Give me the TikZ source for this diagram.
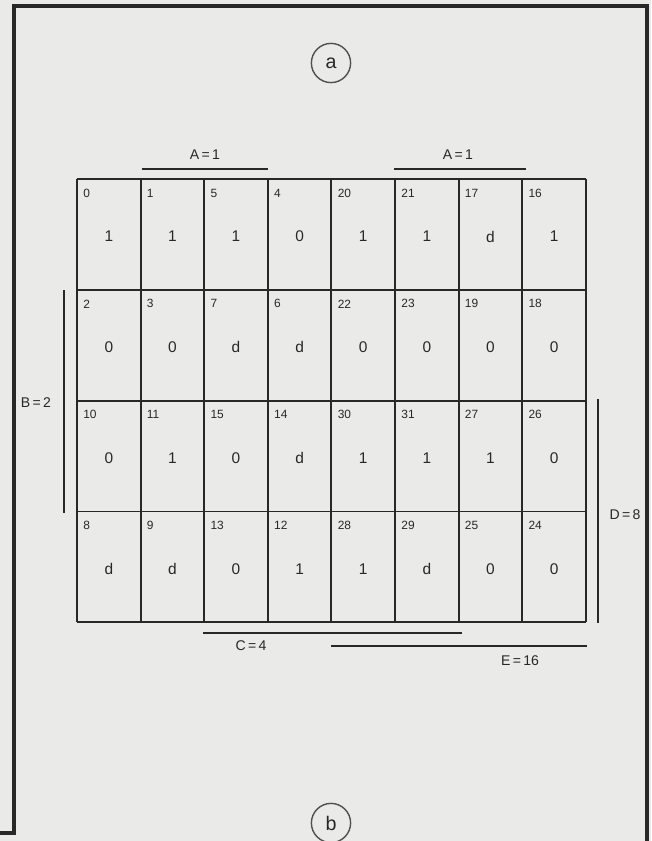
\documentclass[tikz,border=0pt]{standalone}
\usepackage{fontspec}
\setmainfont{Liberation Sans}
\usepackage{tikz}
\usetikzlibrary{calc}
\definecolor{paper}{RGB}{234,234,232}
\definecolor{ink}{RGB}{40,40,40}
\definecolor{pencil}{RGB}{80,80,80}

\tikzset{
  frameline/.style={ink, line width=2.2pt},
  gridline/.style={ink, line width=1.4pt},
  barline/.style={ink, line width=0.9pt},
  tag/.style={circle, draw=pencil, line width=1pt, minimum size=0.98cm, inner sep=0pt, font=\fontsize{14}{14}\selectfont},
  cellnum/.style={anchor=west, inner sep=0pt, xshift=0.15cm, yshift=-0.35cm, font=\fontsize{8.5}{8.5}\selectfont},
  cellval/.style={inner sep=0pt, font=\fontsize{11}{11}\selectfont},
  barlabel/.style={inner sep=0pt, font=\fontsize{10}{10}\selectfont}
}

\begin{document}
\begin{tikzpicture}[x=0.025cm, y=-0.025cm, text=ink]
        \useasboundingbox (0,0) rectangle (651,841);
        \fill[paper] (0,0) rectangle (651,841);
        % frame
        \draw[frameline] (0,833) -- (14,833) -- (14,6) -- (647,6) -- (647,845);
        % circled letters
        \node[tag] (a) at (331,63) {a};
        \node[tag] (b) at (331,823) {b};
        % map
        \begin{scope}[shift={(77,179)}, x=1.59cm, y=-2.77cm]
            \foreach \i in {0,...,8} \draw[gridline] (\i,0) -- (\i,4);
            \foreach \j in {0,...,4} \draw[gridline] (0,\j) -- (8,\j);
            \foreach \n/\v [count=\k from 0] in {0/1, 1/1, 5/1, 4/0, 20/1, 21/1, 17/d, 16/1,
                                                 2/0, 3/0, 7/d, 6/d, 22/0, 23/0, 19/0, 18/0,
                                                 10/0, 11/1, 15/0, 14/d, 30/1, 31/1, 27/1, 26/0,
                                                 8/d, 9/d, 13/0, 12/1, 28/1, 29/d, 25/0, 24/0} {
                \pgfmathtruncatemacro{\col}{mod(\k,8)}
                \pgfmathtruncatemacro{\row}{div(\k,8)}
                \node[cellnum] (n\n) at (\col,\row) {\n};
                \node[cellval] (v\n) at (\col+0.5,\row+0.52) {\v};
            }
        \end{scope}
        % variable bars
        \draw[barline] (141.7,169) -- (267.7,169);
        \node[barlabel] (A1) at (205,155) {A\,=\,1};
        \draw[barline] (394,169) -- (526,169);
        \node[barlabel] (A2) at (458,155) {A\,=\,1};
        \draw[barline] (64,290) -- (64,513);
        \node[barlabel] (B) at (36,403) {B\,=\,2};
        \draw[barline] (203,633) -- (462,633);
        \node[barlabel] (C) at (251,646) {C\,=\,4};
        \draw[barline] (331,646) -- (587,646);
        \node[barlabel] (E) at (520,661) {E\,=\,16};
        \draw[barline] (598,399) -- (598,623);
        \node[barlabel] (D) at (625,515) {D\,=\,8};
    \end{tikzpicture}
\end{document}
